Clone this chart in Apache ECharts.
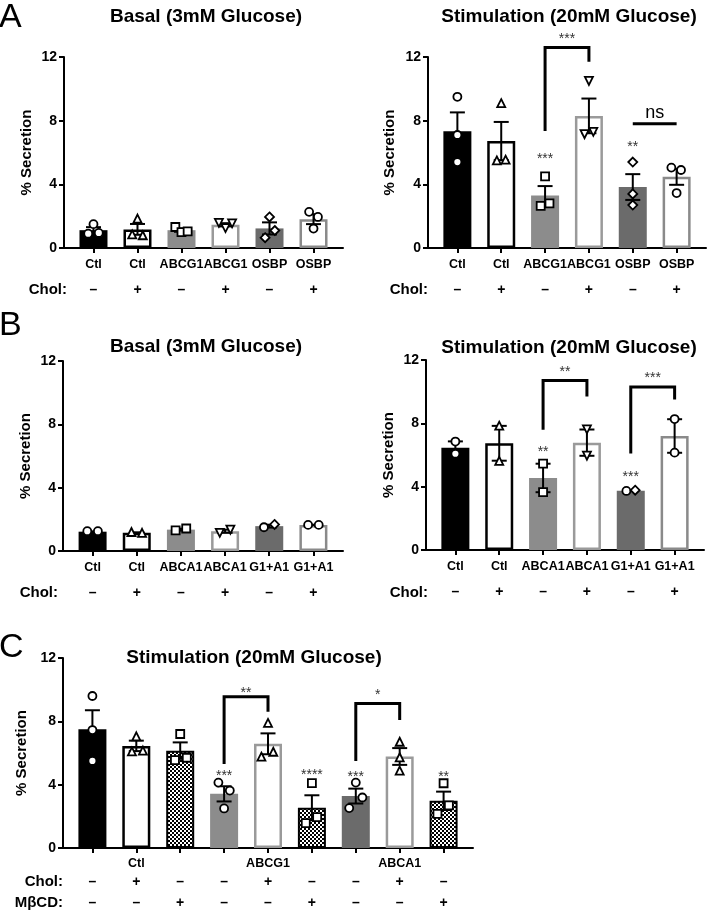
<!DOCTYPE html>
<html><head><meta charset="utf-8">
<script src="https://cdn.jsdelivr.net/npm/echarts@6/dist/echarts.min.js"></script>
<style>html,body{margin:0;padding:0;background:#fff}#main{width:712px;height:910px}</style>
</head><body><div id="main"></div>
<script>
// ================= DATA =================
const yTicks = [0, 4, 8, 12];

// Panel A
const aCats = ['Ctl', 'Ctl', 'ABCG1', 'ABCG1', 'OSBP', 'OSBP'];
const aChol = ['–', '+', '–', '+', '–', '+'];
const aBasalMean = [1.12, 1.17, 1.12, 1.46, 1.23, 1.81];
const aBasalSem  = [0.19, 0.34, 0.10, 0.10, 0.38, 0.31];
const aBasalPts  = [[1.5, 0.9, 0.95], [1.85, 0.85, 0.8], [1.32, 1.0, 1.05], [1.58, 1.25, 1.55], [1.95, 1.1, 0.65], [2.27, 1.95, 1.22]];
const aStimMean = [7.33, 6.72, 3.30, 8.30, 3.83, 4.47];
const aStimSem  = [1.19, 1.20, 0.59, 1.09, 0.81, 0.50];
const aStimPts  = [[9.5, 7.1, 5.4], [9.1, 5.5, 5.55], [4.5, 2.65, 2.8], [10.5, 7.15, 7.3], [5.4, 3.4, 2.7], [5.05, 4.9, 3.45]];
const aStimStars = [{x: 2, y: 5.8, t: '***'}, {x: 4, y: 6.5, t: '**'}, {x: 2.5, y: 13.3, t: '***'}, {x: 4.5, y: 8.5, t: 'ns'}];
const aStimBrackets = [[2, 3, 7.35, 12.6, 11.7]];
const aStimLines = [[4, 5, 7.8]];

// Panel B
const bCats = ['Ctl', 'Ctl', 'ABCA1', 'ABCA1', 'G1+A1', 'G1+A1'];
const bChol = ['–', '+', '–', '+', '–', '+'];
const bBasalMean = [1.22, 1.15, 1.35, 1.25, 1.57, 1.65];
const bBasalSem  = [0.02, 0.03, 0.06, 0.10, 0.09, 0.01];
const bBasalPts  = [[1.25, 1.25], [1.2, 1.15], [1.3, 1.42], [1.15, 1.35], [1.5, 1.68], [1.65, 1.65]];
const bStimMean = [6.46, 6.74, 4.55, 6.78, 3.75, 7.20];
const bStimSem  = [0.40, 1.10, 0.90, 0.83, 0.03, 1.06];
const bStimPts  = [[6.85, 6.08], [7.85, 5.63], [5.45, 3.65], [7.62, 5.96], [3.73, 3.78], [8.27, 6.15]];
const bStimStars = [{x: 2, y: 6.35, t: '**'}, {x: 4, y: 4.8, t: '***'}, {x: 2.5, y: 11.4, t: '**'}, {x: 4.5, y: 11.05, t: '***'}];
const bStimBrackets = [[2, 3, 7.6, 10.7, 9.7], [4, 5, 6.1, 10.3, 9.5]];

// Panel C
const cCats = ['', 'Ctl', '', '', 'ABCG1', '', '', 'ABCA1', ''];
const cChol = ['–', '+', '–', '–', '+', '–', '–', '+', '–'];
const cMbcd = ['–', '–', '+', '–', '–', '+', '–', '–', '+'];
const cMean = [7.50, 6.45, 6.15, 3.42, 6.58, 2.54, 3.28, 5.78, 2.98];
const cSem  = [1.20, 0.33, 0.52, 0.48, 0.66, 0.79, 0.47, 0.53, 0.58];
const cPts  = [[9.6, 7.45, 5.5], [7.05, 6.1, 6.15], [7.2, 5.55, 5.7], [4.13, 3.63, 2.5], [7.9, 5.77, 6.08], [4.1, 1.57, 1.95], [4.13, 3.19, 2.52], [6.71, 5.73, 4.89], [4.09, 2.16, 2.69]];
const cStars = [{x: 3, y: 4.7, t: '***'}, {x: 5, y: 4.8, t: '****'}, {x: 6, y: 4.68, t: '***'}, {x: 8, y: 4.68, t: '**'}, {x: 3.5, y: 10.0, t: '**'}, {x: 6.5, y: 9.86, t: '*'}];
const cBrackets = [[3, 4, 5.3, 9.55, 8.6], [6, 7, 5.5, 9.13, 8.08]];

// ================= STYLE =================
const FONT = '"Liberation Sans", Arial, Helvetica, sans-serif';
const abFills = ['#000', '#fff', '#8c8c8c', '#fff', '#6b6b6b', '#fff'];
const abStrokes = ['#000', '#000', '#8c8c8c', '#9a9a9a', '#6b6b6b', '#8a8a8a'];
const cFills = ['#000', '#fff', 'chk', '#8c8c8c', '#fff', 'chk', '#6b6b6b', '#fff', 'chk'];
const cStrokes = ['#000', '#000', '#000', '#8c8c8c', '#9a9a9a', '#000', '#6b6b6b', '#9a9a9a', '#000'];
const aSym = ['circle', 'triangle', 'rect', 'invtri', 'diamond', 'circle'];
const bSym = ['circle', 'triangle', 'rect', 'invtri', ['circle', 'diamond'], 'circle'];
const cSym = ['circle', 'triangle', 'rect', 'circle', 'triangle', 'rect', 'circle', 'triangle', 'rect'];
const aBasalJit = [[0, -0.12, 0.12], [0, -0.12, 0.12], [-0.14, 0, 0.14], [-0.15, 0, 0.15], [0, 0.12, -0.1], [-0.1, 0.1, 0]];
const aStimJit = [[0, 0, 0], [0, -0.1, 0.1], [0, -0.1, 0.1], [0, -0.1, 0.1], [0, 0, 0], [-0.12, 0.1, 0]];
const bBasalJit = [[-0.12, 0.12], [-0.12, 0.12], [-0.12, 0.12], [-0.12, 0.12], [-0.12, 0.12], [-0.12, 0.12]];
const bStimJit = [[0, 0], [0, 0], [0, 0], [0, 0], [-0.1, 0.1], [0, 0]];
const cJit = [[0, 0, 0], [0, -0.1, 0.15], [0, -0.12, 0.15], [-0.13, 0.13, 0], [0, -0.15, 0.12], [0, -0.14, 0.12], [0, 0.15, -0.15], [0, 0, 0], [0, -0.14, 0.12]];

const symMap = {circle: 'circle', triangle: 'triangle', rect: 'rect', diamond: 'diamond', invtri: 'path://M0,0L10,0L5,9Z'};
const symSize = {circle: 8, triangle: 8, rect: 8, diamond: 9, invtri: 8};

// checker pattern
const chkCanvas = document.createElement('canvas');
chkCanvas.width = 4; chkCanvas.height = 4;
(function () {
  const cx = chkCanvas.getContext('2d');
  cx.fillStyle = '#fff'; cx.fillRect(0, 0, 4, 4);
  cx.fillStyle = '#000'; cx.fillRect(0, 0, 2, 2); cx.fillRect(2, 2, 2, 2);
})();
const chkPattern = {image: chkCanvas, repeat: 'repeat'};

const option = {animation: false, backgroundColor: '#fff', grid: [], xAxis: [], yAxis: [], series: [], graphic: []};

function txt(x, y, text, font, align) {
  return {type: 'text', x: x, y: y, silent: true,
    style: {text: text, font: font, fill: '#000', align: align, verticalAlign: 'middle', textAlign: align, textVerticalAlign: 'middle'}};
}

function addPanel(p) {
  const g = option.grid.length;
  option.grid.push(Object.assign({outerBoundsMode: 'none', containLabel: false}, p.grid));
  const n = p.cats.length;
  const idxs = p.cats.map((_, i) => i);
  const xmin = -0.67, xmax = n - 1 + 0.67;
  const xMain = option.xAxis.length;
  option.xAxis.push({
    gridIndex: g, type: 'value', min: xmin, max: xmax, position: 'bottom',
    axisLine: {onZero: false, lineStyle: {color: '#000', width: 2}},
    axisTick: {show: true, customValues: idxs, length: 5, lineStyle: {color: '#000', width: 2}},
    axisLabel: {customValues: idxs, formatter: v => p.cats[Math.round(v)], margin: p.labelMargin,
      color: '#000', fontWeight: 'bold', fontSize: 12.5, fontFamily: FONT},
    splitLine: {show: false}
  });
  p.signs.forEach(s => {
    option.xAxis.push({
      gridIndex: g, type: 'value', min: xmin, max: xmax, position: 'bottom',
      axisLine: {show: false}, axisTick: {show: false}, splitLine: {show: false},
      axisLabel: {customValues: idxs, formatter: v => s.values[Math.round(v)], margin: s.margin,
        color: '#000', fontWeight: 'bold', fontSize: 14, fontFamily: FONT}
    });
    option.graphic.push(txt(s.lx, s.ly, s.label, 'bold 15px ' + FONT, 'right'));
  });
  option.yAxis.push({
    gridIndex: g, type: 'value', min: yTicks[0], max: yTicks[yTicks.length - 1], interval: 4,
    name: '% Secretion', nameLocation: 'middle', nameRotate: 90, nameGap: p.nameGap,
    nameTextStyle: {color: '#000', fontWeight: 'bold', fontSize: 15, fontFamily: FONT},
    axisLine: {show: true, onZero: false, lineStyle: {color: '#000', width: 2}},
    axisTick: {show: true, length: 5, lineStyle: {color: '#000', width: 2}},
    axisLabel: {margin: 7, color: '#000', fontWeight: 'bold', fontSize: 14, fontFamily: FONT},
    splitLine: {show: false}
  });
  // bars
  option.series.push({
    type: 'custom', xAxisIndex: xMain, yAxisIndex: g, z: 2, silent: true, clip: false,
    data: p.mean.map((m, i) => [i, m]),
    renderItem: (params, api) => {
      const i = api.value(0), v = api.value(1);
      const base = api.coord([i, 0]), top = api.coord([i, v]);
      const w = 28;
      const f = p.fills[i];
      const lw = f === '#fff' ? 2.5 : (f === 'chk' ? 2 : 0);
      return {
        type: 'rect',
        shape: {x: base[0] - w / 2 + lw / 2, y: top[1] + lw / 2, width: w - lw, height: base[1] - top[1] - lw},
        style: {fill: f === 'chk' ? chkPattern : f, stroke: lw ? p.strokes[i] : null, lineWidth: lw}
      };
    }
  });
  // error bars
  option.series.push({
    type: 'custom', xAxisIndex: xMain, yAxisIndex: g, z: 3, silent: true, clip: false,
    data: p.mean.map((m, i) => [i, m, p.sem[i]]),
    renderItem: (params, api) => {
      const i = api.value(0), m = api.value(1), s = api.value(2);
      const hi = api.coord([i, m + s]), lo = api.coord([i, m - s]);
      const cw = 7.5, st = {stroke: '#000', lineWidth: 2};
      return {type: 'group', children: [
        {type: 'line', shape: {x1: hi[0], y1: hi[1], x2: lo[0], y2: lo[1]}, style: st},
        {type: 'line', shape: {x1: hi[0] - cw, y1: hi[1], x2: hi[0] + cw, y2: hi[1]}, style: st},
        {type: 'line', shape: {x1: lo[0] - cw, y1: lo[1], x2: lo[0] + cw, y2: lo[1]}, style: st}
      ]};
    }
  });
  // points
  const pts = [];
  p.pts.forEach((arr, i) => arr.forEach((v, k) => {
    const sName = Array.isArray(p.symbols[i]) ? p.symbols[i][k] : p.symbols[i];
    pts.push({value: [i + p.jitter[i][k], v], symbol: symMap[sName], symbolSize: symSize[sName]});
  }));
  option.series.push({
    type: 'scatter', xAxisIndex: xMain, yAxisIndex: g, z: 4, silent: true,
    data: pts, itemStyle: {color: '#fff', borderColor: '#000', borderWidth: 1.8, opacity: 1}
  });
  // brackets
  if (p.brackets) option.series.push({
    type: 'custom', xAxisIndex: xMain, yAxisIndex: g, z: 3, silent: true, clip: false,
    data: p.brackets,
    renderItem: (params, api) => {
      const a = api.coord([api.value(0), api.value(2)]), b = api.coord([api.value(0), api.value(3)]);
      const c = api.coord([api.value(1), api.value(3)]), d = api.coord([api.value(1), api.value(4)]);
      return {type: 'polyline', shape: {points: [a, b, c, d]}, style: {stroke: '#000', lineWidth: 3, fill: null}};
    }
  });
  if (p.lines) option.series.push({
    type: 'custom', xAxisIndex: xMain, yAxisIndex: g, z: 3, silent: true, clip: false,
    data: p.lines,
    renderItem: (params, api) => {
      const a = api.coord([api.value(0), api.value(2)]), b = api.coord([api.value(1), api.value(2)]);
      return {type: 'line', shape: {x1: a[0], y1: a[1], x2: b[0], y2: b[1]}, style: {stroke: '#000', lineWidth: 3}};
    }
  });
  // stars / ns
  if (p.stars) option.series.push({
    type: 'custom', xAxisIndex: xMain, yAxisIndex: g, z: 5, silent: true, clip: false,
    data: p.stars.map(s => [s.x, s.y]),
    renderItem: (params, api) => {
      const s = p.stars[params.dataIndex];
      const pt = api.coord([api.value(0), api.value(1)]);
      const isNs = s.t === 'ns';
      return {type: 'text', x: pt[0], y: pt[1] + (isNs ? 0 : 3),
        style: {text: s.t, fill: isNs ? '#000' : '#333', font: (isNs ? '18px ' : '14px ') + FONT,
          align: 'center', verticalAlign: 'middle', textAlign: 'center', textVerticalAlign: 'middle'}};
    }
  });
  option.graphic.push(txt(p.titleX, p.titleY, p.title, 'bold 19px ' + FONT, 'center'));
}

addPanel({grid: {left: 64, top: 57, width: 279, height: 191}, cats: aCats, labelMargin: 10, nameGap: 30,
  signs: [{values: aChol, margin: 35, label: 'Chol:', lx: 67, ly: 290}],
  mean: aBasalMean, sem: aBasalSem, pts: aBasalPts, jitter: aBasalJit, symbols: aSym,
  fills: abFills, strokes: abStrokes, title: 'Basal (3mM Glucose)', titleX: 206, titleY: 17});
addPanel({grid: {left: 428, top: 57, width: 278, height: 191}, cats: aCats, labelMargin: 10, nameGap: 31,
  signs: [{values: aChol, margin: 35, label: 'Chol:', lx: 428, ly: 290}],
  mean: aStimMean, sem: aStimSem, pts: aStimPts, jitter: aStimJit, symbols: aSym,
  fills: abFills, strokes: abStrokes, stars: aStimStars, brackets: aStimBrackets, lines: aStimLines,
  title: 'Stimulation (20mM Glucose)', titleX: 569, titleY: 17});
addPanel({grid: {left: 63, top: 361, width: 280, height: 190}, cats: bCats, labelMargin: 10, nameGap: 30,
  signs: [{values: bChol, margin: 35, label: 'Chol:', lx: 58, ly: 593}],
  mean: bBasalMean, sem: bBasalSem, pts: bBasalPts, jitter: bBasalJit, symbols: bSym,
  fills: abFills, strokes: abStrokes, title: 'Basal (3mM Glucose)', titleX: 206, titleY: 347});
addPanel({grid: {left: 426, top: 360, width: 278, height: 190}, cats: bCats, labelMargin: 10, nameGap: 30,
  signs: [{values: bChol, margin: 35, label: 'Chol:', lx: 428, ly: 593}],
  mean: bStimMean, sem: bStimSem, pts: bStimPts, jitter: bStimJit, symbols: bSym,
  fills: abFills, strokes: abStrokes, stars: bStimStars, brackets: bStimBrackets,
  title: 'Stimulation (20mM Glucose)', titleX: 569, titleY: 348});
addPanel({grid: {left: 63, top: 658, width: 410, height: 190}, cats: cCats, labelMargin: 9, nameGap: 29,
  signs: [{values: cChol, margin: 27, label: 'Chol:', lx: 63, ly: 882}, {values: cMbcd, margin: 48, label: 'MβCD:', lx: 63, ly: 903}],
  mean: cMean, sem: cSem, pts: cPts, jitter: cJit, symbols: cSym,
  fills: cFills, strokes: cStrokes, stars: cStars, brackets: cBrackets,
  title: 'Stimulation (20mM Glucose)', titleX: 254, titleY: 658});

option.graphic.push(txt(-1, 18, 'A', '34px ' + FONT, 'left'));
option.graphic.push(txt(-1, 326, 'B', '34px ' + FONT, 'left'));
option.graphic.push(txt(-1, 648, 'C', '34px ' + FONT, 'left'));

const chart = echarts.init(document.getElementById('main'), null, {renderer: 'canvas'});
chart.setOption(option);
</script>
</body></html>
